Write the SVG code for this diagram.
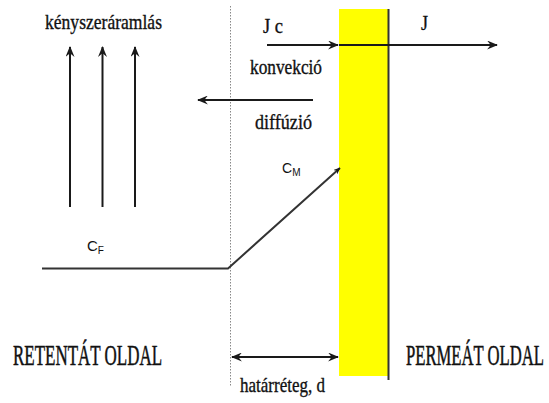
<svg xmlns="http://www.w3.org/2000/svg" width="549" height="403" viewBox="0 0 549 403">
<style>
.serif{font-family:"Liberation Serif","Times New Roman",serif;fill:#111;stroke:#111;stroke-width:0.35;}
.big{font-family:"Liberation Serif","Times New Roman",serif;fill:#111;stroke:#111;stroke-width:0.3;font-size:17px;}
.sans{font-family:"Liberation Sans",Arial,sans-serif;fill:#111;}
.ln{stroke:#1a1a1a;stroke-width:2;fill:none;}
</style>
<defs>
<marker id="ah" viewBox="0 0 12 10" refX="11" refY="5" markerWidth="7" markerHeight="6" orient="auto-start-reverse" markerUnits="userSpaceOnUse">
<path d="M0,0 L12,5 L0,10 L4,5 z" fill="#1a1a1a"/>
</marker>
<marker id="ah2" viewBox="0 0 12 10" refX="11" refY="5" markerWidth="11" markerHeight="9" orient="auto-start-reverse" markerUnits="userSpaceOnUse">
<path d="M0,0 L12,5 L0,10 L4,5 z" fill="#1a1a1a"/>
</marker>
</defs>
<rect width="549" height="403" fill="#fff"/>
<g id="membrane">
<rect x="339" y="9" width="49" height="367" fill="#ffff00"/>
<line x1="388.5" y1="9" x2="388.5" y2="380" stroke="#333" stroke-width="2"/>
</g>
<g id="boundary">
<line x1="230.5" y1="6" x2="230.5" y2="386" stroke="#888" stroke-width="1" stroke-dasharray="1.5,1.5"/>
</g>
<g id="connectors">
<line class="ln" x1="70" y1="207" x2="70" y2="47" marker-end="url(#ah2)"/>
<line class="ln" x1="102.5" y1="207" x2="102.5" y2="47" marker-end="url(#ah2)"/>
<line class="ln" x1="135" y1="207" x2="135" y2="47" marker-end="url(#ah2)"/>
<line class="ln" x1="267" y1="45" x2="338" y2="45" marker-end="url(#ah2)"/>
<line class="ln" x1="339" y1="45" x2="497" y2="45" marker-end="url(#ah2)"/>
<line class="ln" x1="313" y1="100" x2="198" y2="100" marker-end="url(#ah2)"/>
<polyline points="42,268.5 228,268.5 340,168" stroke="#333" stroke-width="2" fill="none" marker-end="url(#ah)"/>
<line class="ln" x1="232" y1="357" x2="338" y2="357" marker-start="url(#ah2)" marker-end="url(#ah2)"/>
</g>
<g id="labels">
<text class="serif" x="45" y="29" font-size="21" textLength="117" lengthAdjust="spacingAndGlyphs">kényszeráramlás</text>
<text class="serif" x="263" y="33" font-size="20" textLength="20" lengthAdjust="spacingAndGlyphs">J c</text>
<text class="serif" x="421" y="30" font-size="22" textLength="7" lengthAdjust="spacingAndGlyphs">J</text>
<text class="serif" x="250" y="74" font-size="20" textLength="72" lengthAdjust="spacingAndGlyphs">konvekció</text>
<text class="serif" x="255" y="129" font-size="21" textLength="57" lengthAdjust="spacingAndGlyphs">diffúzió</text>
<text class="sans" x="87" y="251" font-size="15">C<tspan font-size="10" dy="3">F</tspan></text>
<text class="sans" x="282" y="173" font-size="14">C<tspan font-size="10" dy="3">M</tspan></text>
<text class="big" transform="translate(13,365) scale(1,1.75)" textLength="149" lengthAdjust="spacingAndGlyphs">RETENTÁT OLDAL</text>
<text class="big" transform="translate(406,365) scale(1,1.75)" textLength="138" lengthAdjust="spacingAndGlyphs">PERMEÁT OLDAL</text>
<text class="serif" x="240" y="392" font-size="21" textLength="85" lengthAdjust="spacingAndGlyphs">határréteg, d</text>
</g>
</svg>
